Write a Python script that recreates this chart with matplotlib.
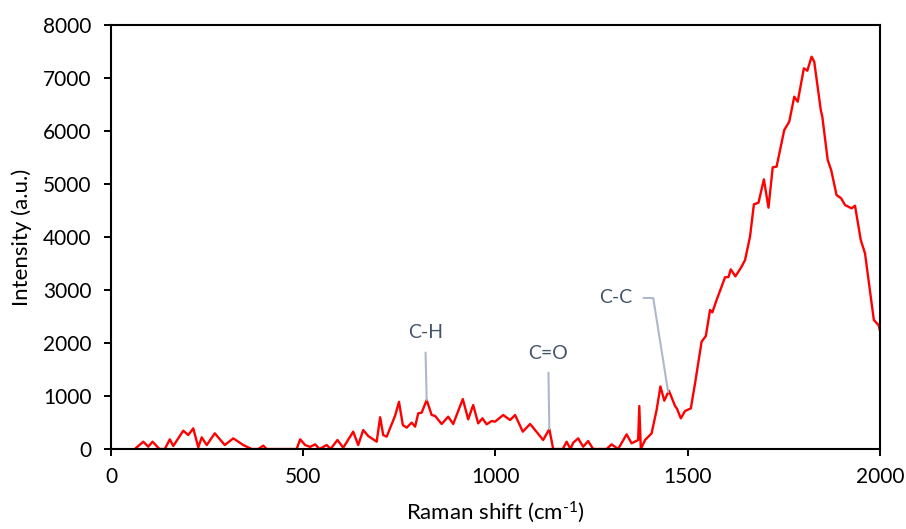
import matplotlib.pyplot as plt

plt.rcParams['font.family'] = ['Lato', 'DejaVu Sans']
plt.rcParams['mathtext.fontset'] = 'custom'
plt.rcParams['mathtext.rm'] = 'Lato'
plt.rcParams['mathtext.default'] = 'rm'

# Raman spectrum
shift = [62, 84, 97, 108, 126, 140, 153, 162, 188, 201, 214, 227, 236, 249, 270, 296,
         318, 344, 366, 383, 396, 405, 483, 492, 505, 518, 531, 542, 561, 571, 589, 604,
         630, 643, 656, 669, 691, 700, 708, 717, 739, 749, 759, 769, 782, 791, 799, 808,
         821, 834, 843, 860, 877, 890, 915, 929, 942, 955, 966, 977, 990, 999, 1020, 1038,
         1051, 1071, 1090, 1103, 1124, 1140, 1150, 1175, 1185, 1195, 1202, 1215, 1228, 1241,
         1254, 1289, 1302, 1319, 1341, 1354, 1371, 1374, 1378, 1389, 1406, 1419, 1429, 1439,
         1451, 1467, 1472, 1482, 1493, 1508, 1519, 1536, 1547, 1558, 1564, 1575, 1597, 1606,
         1612, 1624, 1640, 1649, 1662, 1672, 1684, 1698, 1710, 1721, 1731, 1751, 1764, 1777,
         1786, 1802, 1811, 1822, 1829, 1846, 1850, 1864, 1873, 1887, 1899, 1909, 1926, 1935,
         1950, 1961, 1984, 1996, 2002]
intensity = [0, 138, 43, 138, 0, 0, 183, 57, 346, 264, 390, 32, 220, 75, 296, 75,
             201, 75, 0, 0, 63, 0, 0, 183, 75, 40, 88, 0, 75, 0, 170, 25,
             327, 75, 358, 245, 138, 600, 264, 233, 630, 890, 453, 403, 497, 422, 673, 686,
             925, 642, 623, 472, 610, 472, 943, 560, 830, 484, 579, 466, 528, 516, 642, 547,
             642, 327, 472, 358, 170, 377, 0, 0, 138, 0, 119, 201, 43, 150,
             0, 0, 88, 0, 277, 107, 170, 811, 0, 170, 296, 736, 1180, 912,
             1100, 811, 760, 579, 717, 767, 1239, 2025, 2132, 2623, 2579, 2811, 3240, 3245,
             3390, 3258, 3440, 3566, 4006, 4616, 4648, 5088, 4553, 5315, 5327, 6019, 6176, 6648,
             6553, 7182, 7138, 7402, 7308, 6397, 6270, 5453, 5264, 4792, 4730, 4604, 4541, 4591,
             3943, 3692, 2434, 2340, 2183]

# peak labels, the peak each one points at, and where the text sits
labels = ['C-H', 'C=O', 'C-C']
label_peaks = [(821, 925), (1140, 377), (1449, 1075)]
label_text = [(817, 2190), (1137, 1811), (1313, 2850)]

fig = plt.figure(figsize=(9.06, 5.29), dpi=100)
ax = fig.add_axes([0.1225, 0.1512, 0.8488, 0.8015])

ax.plot(shift, intensity, color='#ff0000', lw=1.7)

ax.set_xlim(0, 2000)
ax.set_ylim(0, 8000)
ax.set_xticks(range(0, 2001, 500))
ax.set_yticks(range(0, 8001, 1000))
ax.tick_params(direction='out', length=5, width=1.4, labelsize=15, colors='black')
ax.tick_params(axis='y', pad=9)
ax.tick_params(axis='x', pad=8)
for s in ax.spines.values():
    s.set_linewidth(1.5)
    s.set_color('black')

ax.set_xlabel(r'Raman shift (cm$^{\text{-}1}$)', fontsize=16, labelpad=9)
ax.set_ylabel('Intensity (a.u.)', fontsize=16, labelpad=8)

conn = ['arc3,rad=0', 'arc3,rad=0', 'angle,angleA=0,angleB=99,rad=0']
for txt, pk, pos, cs in zip(labels, label_peaks, label_text, conn):
    ax.annotate(txt, xy=pk, xytext=pos, ha='center', va='center',
                fontsize=14, color='#44546a',
                arrowprops=dict(arrowstyle='-', color='#adb9ca', lw=1.5,
                                connectionstyle=cs, shrinkA=6, shrinkB=0))

fig.savefig('out.png', dpi=100)
